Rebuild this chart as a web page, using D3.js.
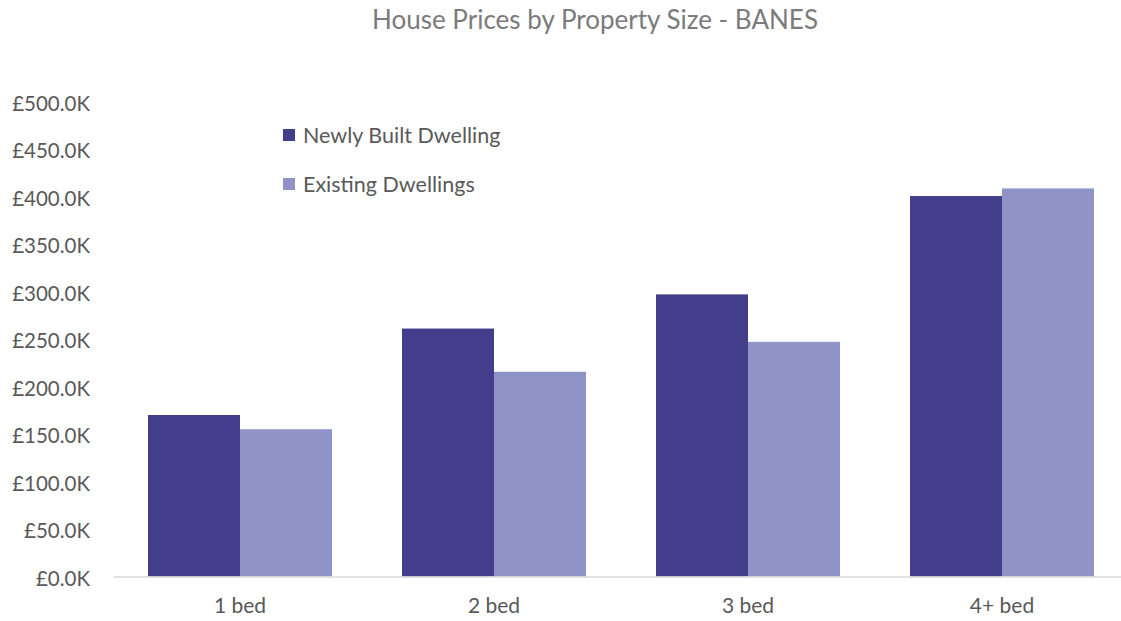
<!DOCTYPE html>
<html>
<head>
<meta charset="utf-8">
<script src="https://cdn.jsdelivr.net/npm/d3@7.9.0/dist/d3.min.js"></script>
<style>
  body { margin: 0; background: #fff; }
  text { font-family: Lato, "Open Sans", sans-serif; }
</style>
</head>
<body>
<svg id="chart" width="1121" height="621"></svg>
<script>
// data
const categories = ['1 bed', '2 bed', '3 bed', '4+ bed'];
const seriesNames = ['Newly Built Dwelling', 'Existing Dwellings'];
const newlyBuilt = [170, 261, 297, 400.5];   // £K
const existing = [155, 215.5, 247, 408.5];   // £K
const yTicks = [0, 50, 100, 150, 200, 250, 300, 350, 400, 450, 500];
const colors = ['#433e8b', '#8f93c7'];

const svg = d3.select('#chart');

// scales
const x = d3.scaleBand()
    .domain(categories)
    .range([113, 1129])
    .paddingInner(0.2756)
    .paddingOuter(0.1378);

const xSub = d3.scaleBand()
    .domain(seriesNames)
    .range([0, x.bandwidth()]);

const y = d3.scaleLinear()
    .domain([0, 500])
    .range([576.5, 101.5]);

const rows = categories.map((c, i) => ({
    cat: c,
    vals: [
        { name: seriesNames[0], value: newlyBuilt[i] },
        { name: seriesNames[1], value: existing[i] }
    ]
}));

// title
svg.append('text')
    .attr('x', 595)
    .attr('y', 29)
    .attr('text-anchor', 'middle')
    .attr('fill', '#7b7b7b')
    .style('font-size', '26px')
    .text('House Prices by Property Size - BANES');

// bars
const groups = svg.append('g').selectAll('g')
    .data(rows)
    .join('g')
    .attr('transform', d => `translate(${x(d.cat)},0)`);

groups.selectAll('rect')
    .data(d => d.vals)
    .join('rect')
    .attr('x', d => xSub(d.name))
    .attr('y', d => y(d.value))
    .attr('width', xSub.bandwidth())
    .attr('height', d => y(0) - y(d.value))
    .attr('fill', (d, i) => colors[i]);

// y axis (labels only)
const yAxis = d3.axisLeft(y)
    .tickValues(yTicks)
    .tickSize(0)
    .tickPadding(0)
    .tickFormat(d => '£' + d3.format('.1f')(d) + 'K');

svg.append('g')
    .attr('transform', 'translate(90,2)')
    .call(yAxis)
    .call(g => g.select('.domain').remove())
    .call(g => g.selectAll('text')
        .attr('fill', '#595959')
        .style('font-size', '20.5px'));

// x axis
const xAxis = d3.axisBottom(x).tickSize(0).tickPadding(22);
svg.append('g')
    .attr('transform', `translate(0,${y(0)})`)
    .call(xAxis)
    .call(g => g.select('.domain')
        .attr('stroke', '#d9d9d9')
        .attr('stroke-width', 1.5))
    .call(g => g.selectAll('text')
        .attr('fill', '#595959')
        .style('font-size', '21px'));

// legend
const legend = svg.append('g')
    .selectAll('g')
    .data(seriesNames)
    .join('g')
    .attr('transform', (d, i) => `translate(283,${135 + i * 49})`);

legend.append('rect')
    .attr('x', 0)
    .attr('y', -6)
    .attr('width', 12)
    .attr('height', 12)
    .attr('fill', (d, i) => colors[i]);

legend.append('text')
    .attr('x', 20)
    .attr('y', 0)
    .attr('dy', '0.35em')
    .attr('fill', '#595959')
    .style('font-size', '21.5px')
    .text(d => d);
</script>
</body>
</html>
